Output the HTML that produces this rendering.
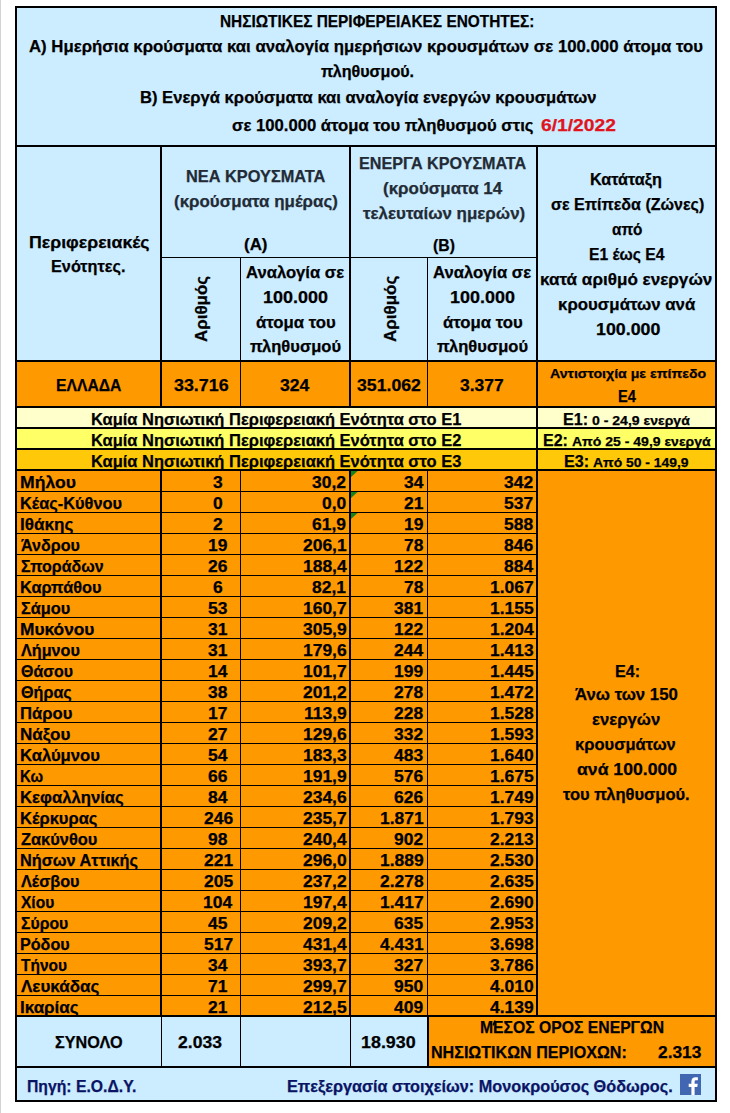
<!DOCTYPE html>
<html><head><meta charset="utf-8"><title>table</title>
<style>
html,body{margin:0;padding:0;background:#fff}
body{width:730px;height:1113px;position:relative;overflow:hidden;font-family:"Liberation Sans",sans-serif;font-weight:bold}
.r{position:absolute}
.t{position:absolute;white-space:pre;line-height:1;transform-origin:0 0;color:#000;-webkit-text-stroke:0.25px currentColor}
</style></head><body>
<div class="r" style="left:0px;top:0px;width:1px;height:1113px;background:#D4D4D4"></div>
<div class="r" style="left:15px;top:6px;width:702px;height:1096px;background:#000"></div>
<div class="r" style="left:17px;top:8px;width:698px;height:137px;background:#CCECFF"></div>
<div class="r" style="left:17px;top:147px;width:698px;height:213px;background:#CCECFF"></div>
<div class="r" style="left:17px;top:362px;width:698px;height:44px;background:#FF9900"></div>
<div class="r" style="left:17px;top:408px;width:698px;height:19px;background:#FFFFCC"></div>
<div class="r" style="left:17px;top:429px;width:698px;height:19px;background:#FFFF66"></div>
<div class="r" style="left:17px;top:450px;width:698px;height:19px;background:#FFC808"></div>
<div class="r" style="left:17px;top:471px;width:698px;height:544px;background:#FF9900"></div>
<div class="r" style="left:17px;top:1017px;width:411px;height:49px;background:#CCECFF"></div>
<div class="r" style="left:429px;top:1017px;width:286px;height:49px;background:#FF9900"></div>
<div class="r" style="left:17px;top:1068px;width:698px;height:32px;background:#CCECFF"></div>
<svg class="r" style="left:351px;top:471px" width="8" height="8"><path d="M0 0H6.6L0 6Z" fill="#15831C"/></svg>
<svg class="r" style="left:351px;top:492px" width="8" height="8"><path d="M0 0H6.6L0 6Z" fill="#15831C"/></svg>
<svg class="r" style="left:351px;top:513px" width="8" height="8"><path d="M0 0H6.6L0 6Z" fill="#15831C"/></svg>
<div class="t" style="left:220.27px;top:13.00px;font-size:16.5px;color:#000;transform:scaleX(0.9332)">ΝΗΣΙΩΤΙΚΕΣ ΠΕΡΙΦΕΡΕΙΑΚΕΣ ΕΝΟΤΗΤΕΣ:</div>
<div class="t" style="left:29.20px;top:38.00px;font-size:16.5px;color:#000;transform:scaleX(1.0157)">Α) Ημερήσια κρούσματα και αναλογία ημερήσιων κρουσμάτων σε 100.000 άτομα του</div>
<div class="t" style="left:320.50px;top:63.00px;font-size:16.5px;color:#000;transform:scaleX(0.9751)">πληθυσμού.</div>
<div class="t" style="left:139.99px;top:89.00px;font-size:16.5px;color:#000;transform:scaleX(1.0059)">Β) Ενεργά κρούσματα και αναλογία ενεργών κρουσμάτων</div>
<div class="t" style="left:232.30px;top:117.00px;font-size:16.5px;color:#000;transform:scaleX(1.0106)">σε 100.000 άτομα του πληθυσμού στις</div>
<div class="t" style="left:541.30px;top:117.00px;font-size:16.5px;color:#E0141C;transform:scaleX(1.1663)">6/1/2022</div>
<div class="t" style="left:28.73px;top:234.00px;font-size:16.5px;color:#000;transform:scaleX(1.0743)">Περιφερειακές</div>
<div class="t" style="left:51.02px;top:258.00px;font-size:16.5px;color:#000;transform:scaleX(0.9849)">Ενότητες.</div>
<div class="t" style="left:185.71px;top:168.00px;font-size:16.5px;color:#222B35;transform:scaleX(0.9909)">ΝΕΑ ΚΡΟΥΣΜΑΤΑ</div>
<div class="t" style="left:174.20px;top:193.00px;font-size:16.5px;color:#222B35;transform:scaleX(1.0252)">(κρούσματα ημέρας)</div>
<div class="t" style="left:244.40px;top:236.00px;font-size:16.5px;color:#000;transform:scaleX(1.0263)">(Α)</div>
<div class="t" style="left:359.12px;top:155.00px;font-size:16.5px;color:#222B35;transform:scaleX(0.9788)">ΕΝΕΡΓΑ ΚΡΟΥΣΜΑΤΑ</div>
<div class="t" style="left:383.40px;top:180.00px;font-size:16.5px;color:#222B35;transform:scaleX(1.0263)">(κρούσματα 14</div>
<div class="t" style="left:362.80px;top:205.00px;font-size:16.5px;color:#222B35;transform:scaleX(1.0269)">τελευταίων ημερών)</div>
<div class="t" style="left:433.20px;top:237.00px;font-size:16.5px;color:#000;transform:scaleX(0.9549)">(Β)</div>
<div class="t" style="left:246.00px;top:264.00px;font-size:16.5px;color:#000;transform:scaleX(1.0087)">Αναλογία σε</div>
<div class="t" style="left:263.01px;top:289.00px;font-size:16.5px;color:#000;transform:scaleX(1.0878)">100.000</div>
<div class="t" style="left:255.80px;top:314.00px;font-size:16.5px;color:#000;transform:scaleX(1.0150)">άτομα του</div>
<div class="t" style="left:249.80px;top:338.00px;font-size:16.5px;color:#000;transform:scaleX(1.0016)">πληθυσμού</div>
<div class="t" style="left:433.00px;top:264.00px;font-size:16.5px;color:#000;transform:scaleX(1.0087)">Αναλογία σε</div>
<div class="t" style="left:450.01px;top:289.00px;font-size:16.5px;color:#000;transform:scaleX(1.0878)">100.000</div>
<div class="t" style="left:442.80px;top:314.00px;font-size:16.5px;color:#000;transform:scaleX(1.0150)">άτομα του</div>
<div class="t" style="left:436.80px;top:338.00px;font-size:16.5px;color:#000;transform:scaleX(1.0016)">πληθυσμού</div>
<div class="t" style="left:206.70px;top:327.83px;font-size:16.5px;color:#000;transform-origin:0 13.97px;transform:rotate(-90deg) scaleX(1.0251)">Αριθμός</div>
<div class="t" style="left:395.50px;top:327.83px;font-size:16.5px;color:#000;transform-origin:0 13.97px;transform:rotate(-90deg) scaleX(1.0282)">Αριθμός</div>
<div class="t" style="left:589.82px;top:171.00px;font-size:16.5px;color:#000;transform:scaleX(0.9830)">Κατάταξη</div>
<div class="t" style="left:550.70px;top:196.00px;font-size:16.5px;color:#000;transform:scaleX(0.9719)">σε Επίπεδα (Ζώνες)</div>
<div class="t" style="left:612.30px;top:221.00px;font-size:16.5px;color:#000;transform:scaleX(0.9275)">από</div>
<div class="t" style="left:589.25px;top:246.00px;font-size:16.5px;color:#000;transform:scaleX(0.9493)">Ε1 έως Ε4</div>
<div class="t" style="left:540.26px;top:271.00px;font-size:16.5px;color:#000;transform:scaleX(1.0357)">κατά αριθμό ενεργών</div>
<div class="t" style="left:558.08px;top:296.00px;font-size:16.5px;color:#000;transform:scaleX(1.0192)">κρουσμάτων ανά</div>
<div class="t" style="left:595.52px;top:321.00px;font-size:16.5px;color:#000;transform:scaleX(1.0792)">100.000</div>
<div class="t" style="left:55.95px;top:377.00px;font-size:16.5px;color:#000;transform:scaleX(0.9529)">ΕΛΛΑΔΑ</div>
<div class="t" style="left:173.60px;top:377.00px;font-size:16.5px;color:#000;transform:scaleX(1.0817)">33.716</div>
<div class="t" style="left:280.40px;top:377.00px;font-size:16.5px;color:#000;transform:scaleX(1.0651)">324</div>
<div class="t" style="left:356.90px;top:377.00px;font-size:16.5px;color:#000;transform:scaleX(1.0712)">351.062</div>
<div class="t" style="left:460.00px;top:377.00px;font-size:16.5px;color:#000;transform:scaleX(1.0556)">3.377</div>
<div class="t" style="left:549.50px;top:367.00px;font-size:13.2px;color:#000;transform:scaleX(1.0730)">Αντιστοιχία με επίπεδο</div>
<div class="t" style="left:618.12px;top:388.00px;font-size:16.5px;color:#000;transform:scaleX(0.8848)">Ε4</div>
<div class="t" style="left:90.90px;top:411.00px;font-size:16.5px;color:#000;transform:scaleX(0.9982)">Καμία Νησιωτική Περιφερειακή Ενότητα στο Ε1</div>
<div class="t" style="left:90.90px;top:432.00px;font-size:16.5px;color:#000;transform:scaleX(0.9982)">Καμία Νησιωτική Περιφερειακή Ενότητα στο Ε2</div>
<div class="t" style="left:90.90px;top:453.00px;font-size:16.5px;color:#000;transform:scaleX(0.9982)">Καμία Νησιωτική Περιφερειακή Ενότητα στο Ε3</div>
<div class="t" style="left:562.69px;top:412.00px;font-size:16px;color:#000;transform:scaleX(1.0057)">Ε1:</div>
<div class="t" style="left:592.00px;top:414.00px;font-size:13px;color:#000;transform:scaleX(1.0802)">0 - 24,9 ενεργά</div>
<div class="t" style="left:542.60px;top:433.00px;font-size:16px;color:#000;transform:scaleX(1.0013)">Ε2:</div>
<div class="t" style="left:571.80px;top:435.00px;font-size:13px;color:#000;transform:scaleX(1.0772)">Από 25 - 49,9 ενεργά</div>
<div class="t" style="left:563.99px;top:454.00px;font-size:16px;color:#000;transform:scaleX(1.0057)">Ε3:</div>
<div class="t" style="left:592.70px;top:456.00px;font-size:13px;color:#000;transform:scaleX(1.0683)">Από 50 - 149,9</div>
<div class="t" style="left:20.00px;top:475.00px;font-size:16px;color:#000;transform:scaleX(1.0993)">Μήλου</div>
<div class="t" style="left:213.19px;top:475.00px;font-size:16px;color:#000;transform:scaleX(1.0900)">3</div>
<div class="t" style="left:312.45px;top:475.00px;font-size:16px;color:#000;transform:scaleX(1.0900)">30,2</div>
<div class="t" style="left:403.89px;top:475.00px;font-size:16px;color:#000;transform:scaleX(1.0900)">34</div>
<div class="t" style="left:504.09px;top:475.00px;font-size:16px;color:#000;transform:scaleX(1.0900)">342</div>
<div class="t" style="left:20.08px;top:496.00px;font-size:16px;color:#000;transform:scaleX(1.0229)">Κέας-Κύθνου</div>
<div class="t" style="left:213.19px;top:496.00px;font-size:16px;color:#000;transform:scaleX(1.0900)">0</div>
<div class="t" style="left:322.14px;top:496.00px;font-size:16px;color:#000;transform:scaleX(1.0900)">0,0</div>
<div class="t" style="left:403.89px;top:496.00px;font-size:16px;color:#000;transform:scaleX(1.0900)">21</div>
<div class="t" style="left:504.09px;top:496.00px;font-size:16px;color:#000;transform:scaleX(1.0900)">537</div>
<div class="t" style="left:20.03px;top:517.00px;font-size:16px;color:#000;transform:scaleX(1.0694)">Ιθάκης</div>
<div class="t" style="left:213.19px;top:517.00px;font-size:16px;color:#000;transform:scaleX(1.0900)">2</div>
<div class="t" style="left:312.45px;top:517.00px;font-size:16px;color:#000;transform:scaleX(1.0900)">61,9</div>
<div class="t" style="left:403.89px;top:517.00px;font-size:16px;color:#000;transform:scaleX(1.0900)">19</div>
<div class="t" style="left:504.09px;top:517.00px;font-size:16px;color:#000;transform:scaleX(1.0900)">588</div>
<div class="t" style="left:21.10px;top:538.00px;font-size:16px;color:#000;transform:scaleX(1.0063)">Άνδρου</div>
<div class="t" style="left:207.80px;top:538.00px;font-size:16px;color:#000;transform:scaleX(1.0900)">19</div>
<div class="t" style="left:302.75px;top:538.00px;font-size:16px;color:#000;transform:scaleX(1.0900)">206,1</div>
<div class="t" style="left:403.89px;top:538.00px;font-size:16px;color:#000;transform:scaleX(1.0900)">78</div>
<div class="t" style="left:504.09px;top:538.00px;font-size:16px;color:#000;transform:scaleX(1.0900)">846</div>
<div class="t" style="left:21.10px;top:559.00px;font-size:16px;color:#000;transform:scaleX(0.9981)">Σποράδων</div>
<div class="t" style="left:208.35px;top:559.00px;font-size:16px;color:#000;transform:scaleX(1.0900)">26</div>
<div class="t" style="left:302.75px;top:559.00px;font-size:16px;color:#000;transform:scaleX(1.0900)">188,4</div>
<div class="t" style="left:394.19px;top:559.00px;font-size:16px;color:#000;transform:scaleX(1.0900)">122</div>
<div class="t" style="left:504.09px;top:559.00px;font-size:16px;color:#000;transform:scaleX(1.0900)">884</div>
<div class="t" style="left:20.08px;top:580.00px;font-size:16px;color:#000;transform:scaleX(1.0211)">Καρπάθου</div>
<div class="t" style="left:213.19px;top:580.00px;font-size:16px;color:#000;transform:scaleX(1.0900)">6</div>
<div class="t" style="left:312.45px;top:580.00px;font-size:16px;color:#000;transform:scaleX(1.0900)">82,1</div>
<div class="t" style="left:403.89px;top:580.00px;font-size:16px;color:#000;transform:scaleX(1.0900)">78</div>
<div class="t" style="left:489.55px;top:580.00px;font-size:16px;color:#000;transform:scaleX(1.0900)">1.067</div>
<div class="t" style="left:21.10px;top:601.00px;font-size:16px;color:#000;transform:scaleX(1.0208)">Σάμου</div>
<div class="t" style="left:208.35px;top:601.00px;font-size:16px;color:#000;transform:scaleX(1.0900)">53</div>
<div class="t" style="left:302.75px;top:601.00px;font-size:16px;color:#000;transform:scaleX(1.0900)">160,7</div>
<div class="t" style="left:394.19px;top:601.00px;font-size:16px;color:#000;transform:scaleX(1.0900)">381</div>
<div class="t" style="left:489.55px;top:601.00px;font-size:16px;color:#000;transform:scaleX(1.0900)">1.155</div>
<div class="t" style="left:20.02px;top:622.00px;font-size:16px;color:#000;transform:scaleX(1.0819)">Μυκόνου</div>
<div class="t" style="left:208.35px;top:622.00px;font-size:16px;color:#000;transform:scaleX(1.0900)">31</div>
<div class="t" style="left:302.75px;top:622.00px;font-size:16px;color:#000;transform:scaleX(1.0900)">305,9</div>
<div class="t" style="left:394.19px;top:622.00px;font-size:16px;color:#000;transform:scaleX(1.0900)">122</div>
<div class="t" style="left:489.55px;top:622.00px;font-size:16px;color:#000;transform:scaleX(1.0900)">1.204</div>
<div class="t" style="left:21.10px;top:643.00px;font-size:16px;color:#000;transform:scaleX(1.0120)">Λήμνου</div>
<div class="t" style="left:208.35px;top:643.00px;font-size:16px;color:#000;transform:scaleX(1.0900)">31</div>
<div class="t" style="left:302.75px;top:643.00px;font-size:16px;color:#000;transform:scaleX(1.0900)">179,6</div>
<div class="t" style="left:394.19px;top:643.00px;font-size:16px;color:#000;transform:scaleX(1.0900)">244</div>
<div class="t" style="left:489.55px;top:643.00px;font-size:16px;color:#000;transform:scaleX(1.0900)">1.413</div>
<div class="t" style="left:21.10px;top:664.00px;font-size:16px;color:#000;transform:scaleX(0.9962)">Θάσου</div>
<div class="t" style="left:207.80px;top:664.00px;font-size:16px;color:#000;transform:scaleX(1.0900)">14</div>
<div class="t" style="left:302.75px;top:664.00px;font-size:16px;color:#000;transform:scaleX(1.0900)">101,7</div>
<div class="t" style="left:394.19px;top:664.00px;font-size:16px;color:#000;transform:scaleX(1.0900)">199</div>
<div class="t" style="left:489.55px;top:664.00px;font-size:16px;color:#000;transform:scaleX(1.0900)">1.445</div>
<div class="t" style="left:21.10px;top:685.00px;font-size:16px;color:#000;transform:scaleX(1.0089)">Θήρας</div>
<div class="t" style="left:208.35px;top:685.00px;font-size:16px;color:#000;transform:scaleX(1.0900)">38</div>
<div class="t" style="left:302.75px;top:685.00px;font-size:16px;color:#000;transform:scaleX(1.0900)">201,2</div>
<div class="t" style="left:394.19px;top:685.00px;font-size:16px;color:#000;transform:scaleX(1.0900)">278</div>
<div class="t" style="left:489.55px;top:685.00px;font-size:16px;color:#000;transform:scaleX(1.0900)">1.472</div>
<div class="t" style="left:20.06px;top:706.00px;font-size:16px;color:#000;transform:scaleX(1.0395)">Πάρου</div>
<div class="t" style="left:207.80px;top:706.00px;font-size:16px;color:#000;transform:scaleX(1.0900)">17</div>
<div class="t" style="left:303.71px;top:706.00px;font-size:16px;color:#000;transform:scaleX(1.0900)">113,9</div>
<div class="t" style="left:394.19px;top:706.00px;font-size:16px;color:#000;transform:scaleX(1.0900)">228</div>
<div class="t" style="left:489.55px;top:706.00px;font-size:16px;color:#000;transform:scaleX(1.0900)">1.528</div>
<div class="t" style="left:20.04px;top:727.00px;font-size:16px;color:#000;transform:scaleX(1.0631)">Νάξου</div>
<div class="t" style="left:208.35px;top:727.00px;font-size:16px;color:#000;transform:scaleX(1.0900)">27</div>
<div class="t" style="left:302.75px;top:727.00px;font-size:16px;color:#000;transform:scaleX(1.0900)">129,6</div>
<div class="t" style="left:394.19px;top:727.00px;font-size:16px;color:#000;transform:scaleX(1.0900)">332</div>
<div class="t" style="left:489.55px;top:727.00px;font-size:16px;color:#000;transform:scaleX(1.0900)">1.593</div>
<div class="t" style="left:20.06px;top:748.00px;font-size:16px;color:#000;transform:scaleX(1.0417)">Καλύμνου</div>
<div class="t" style="left:208.35px;top:748.00px;font-size:16px;color:#000;transform:scaleX(1.0900)">54</div>
<div class="t" style="left:302.75px;top:748.00px;font-size:16px;color:#000;transform:scaleX(1.0900)">183,3</div>
<div class="t" style="left:394.19px;top:748.00px;font-size:16px;color:#000;transform:scaleX(1.0900)">483</div>
<div class="t" style="left:489.55px;top:748.00px;font-size:16px;color:#000;transform:scaleX(1.0900)">1.640</div>
<div class="t" style="left:20.17px;top:769.00px;font-size:16px;color:#000;transform:scaleX(0.9315)">Κω</div>
<div class="t" style="left:208.35px;top:769.00px;font-size:16px;color:#000;transform:scaleX(1.0900)">66</div>
<div class="t" style="left:302.75px;top:769.00px;font-size:16px;color:#000;transform:scaleX(1.0900)">191,9</div>
<div class="t" style="left:394.19px;top:769.00px;font-size:16px;color:#000;transform:scaleX(1.0900)">576</div>
<div class="t" style="left:489.55px;top:769.00px;font-size:16px;color:#000;transform:scaleX(1.0900)">1.675</div>
<div class="t" style="left:20.06px;top:790.00px;font-size:16px;color:#000;transform:scaleX(1.0430)">Κεφαλληνίας</div>
<div class="t" style="left:208.35px;top:790.00px;font-size:16px;color:#000;transform:scaleX(1.0900)">84</div>
<div class="t" style="left:302.75px;top:790.00px;font-size:16px;color:#000;transform:scaleX(1.0900)">234,6</div>
<div class="t" style="left:394.19px;top:790.00px;font-size:16px;color:#000;transform:scaleX(1.0900)">626</div>
<div class="t" style="left:489.55px;top:790.00px;font-size:16px;color:#000;transform:scaleX(1.0900)">1.749</div>
<div class="t" style="left:20.07px;top:811.00px;font-size:16px;color:#000;transform:scaleX(1.0334)">Κέρκυρας</div>
<div class="t" style="left:203.50px;top:811.00px;font-size:16px;color:#000;transform:scaleX(1.0900)">246</div>
<div class="t" style="left:302.75px;top:811.00px;font-size:16px;color:#000;transform:scaleX(1.0900)">235,7</div>
<div class="t" style="left:379.65px;top:811.00px;font-size:16px;color:#000;transform:scaleX(1.0900)">1.871</div>
<div class="t" style="left:489.55px;top:811.00px;font-size:16px;color:#000;transform:scaleX(1.0900)">1.793</div>
<div class="t" style="left:21.10px;top:832.00px;font-size:16px;color:#000;transform:scaleX(1.0261)">Ζακύνθου</div>
<div class="t" style="left:208.35px;top:832.00px;font-size:16px;color:#000;transform:scaleX(1.0900)">98</div>
<div class="t" style="left:302.75px;top:832.00px;font-size:16px;color:#000;transform:scaleX(1.0900)">240,4</div>
<div class="t" style="left:394.19px;top:832.00px;font-size:16px;color:#000;transform:scaleX(1.0900)">902</div>
<div class="t" style="left:489.55px;top:832.00px;font-size:16px;color:#000;transform:scaleX(1.0900)">2.213</div>
<div class="t" style="left:20.08px;top:853.00px;font-size:16px;color:#000;transform:scaleX(1.0182)">Νήσων Αττικής</div>
<div class="t" style="left:203.50px;top:853.00px;font-size:16px;color:#000;transform:scaleX(1.0900)">221</div>
<div class="t" style="left:302.75px;top:853.00px;font-size:16px;color:#000;transform:scaleX(1.0900)">296,0</div>
<div class="t" style="left:379.65px;top:853.00px;font-size:16px;color:#000;transform:scaleX(1.0900)">1.889</div>
<div class="t" style="left:489.55px;top:853.00px;font-size:16px;color:#000;transform:scaleX(1.0900)">2.530</div>
<div class="t" style="left:21.10px;top:874.00px;font-size:16px;color:#000;transform:scaleX(1.0144)">Λέσβου</div>
<div class="t" style="left:203.50px;top:874.00px;font-size:16px;color:#000;transform:scaleX(1.0900)">205</div>
<div class="t" style="left:302.75px;top:874.00px;font-size:16px;color:#000;transform:scaleX(1.0900)">237,2</div>
<div class="t" style="left:379.65px;top:874.00px;font-size:16px;color:#000;transform:scaleX(1.0900)">2.278</div>
<div class="t" style="left:489.55px;top:874.00px;font-size:16px;color:#000;transform:scaleX(1.0900)">2.635</div>
<div class="t" style="left:21.10px;top:895.00px;font-size:16px;color:#000;transform:scaleX(0.9708)">Χίου</div>
<div class="t" style="left:202.95px;top:895.00px;font-size:16px;color:#000;transform:scaleX(1.0900)">104</div>
<div class="t" style="left:302.75px;top:895.00px;font-size:16px;color:#000;transform:scaleX(1.0900)">197,4</div>
<div class="t" style="left:379.65px;top:895.00px;font-size:16px;color:#000;transform:scaleX(1.0900)">1.417</div>
<div class="t" style="left:489.55px;top:895.00px;font-size:16px;color:#000;transform:scaleX(1.0900)">2.690</div>
<div class="t" style="left:21.10px;top:916.00px;font-size:16px;color:#000;transform:scaleX(0.9856)">Σύρου</div>
<div class="t" style="left:208.35px;top:916.00px;font-size:16px;color:#000;transform:scaleX(1.0900)">45</div>
<div class="t" style="left:302.75px;top:916.00px;font-size:16px;color:#000;transform:scaleX(1.0900)">209,2</div>
<div class="t" style="left:394.19px;top:916.00px;font-size:16px;color:#000;transform:scaleX(1.0900)">635</div>
<div class="t" style="left:489.55px;top:916.00px;font-size:16px;color:#000;transform:scaleX(1.0900)">2.953</div>
<div class="t" style="left:20.09px;top:937.00px;font-size:16px;color:#000;transform:scaleX(1.0079)">Ρόδου</div>
<div class="t" style="left:203.50px;top:937.00px;font-size:16px;color:#000;transform:scaleX(1.0900)">517</div>
<div class="t" style="left:302.75px;top:937.00px;font-size:16px;color:#000;transform:scaleX(1.0900)">431,4</div>
<div class="t" style="left:379.65px;top:937.00px;font-size:16px;color:#000;transform:scaleX(1.0900)">4.431</div>
<div class="t" style="left:489.55px;top:937.00px;font-size:16px;color:#000;transform:scaleX(1.0900)">3.698</div>
<div class="t" style="left:21.10px;top:958.00px;font-size:16px;color:#000;transform:scaleX(0.9678)">Τήνου</div>
<div class="t" style="left:208.35px;top:958.00px;font-size:16px;color:#000;transform:scaleX(1.0900)">34</div>
<div class="t" style="left:302.75px;top:958.00px;font-size:16px;color:#000;transform:scaleX(1.0900)">393,7</div>
<div class="t" style="left:394.19px;top:958.00px;font-size:16px;color:#000;transform:scaleX(1.0900)">327</div>
<div class="t" style="left:489.55px;top:958.00px;font-size:16px;color:#000;transform:scaleX(1.0900)">3.786</div>
<div class="t" style="left:21.10px;top:979.00px;font-size:16px;color:#000;transform:scaleX(1.0648)">Λευκάδας</div>
<div class="t" style="left:208.35px;top:979.00px;font-size:16px;color:#000;transform:scaleX(1.0900)">71</div>
<div class="t" style="left:302.75px;top:979.00px;font-size:16px;color:#000;transform:scaleX(1.0900)">299,7</div>
<div class="t" style="left:394.19px;top:979.00px;font-size:16px;color:#000;transform:scaleX(1.0900)">950</div>
<div class="t" style="left:489.55px;top:979.00px;font-size:16px;color:#000;transform:scaleX(1.0900)">4.010</div>
<div class="t" style="left:20.04px;top:1000.00px;font-size:16px;color:#000;transform:scaleX(1.0622)">Ικαρίας</div>
<div class="t" style="left:208.35px;top:1000.00px;font-size:16px;color:#000;transform:scaleX(1.0900)">21</div>
<div class="t" style="left:302.75px;top:1000.00px;font-size:16px;color:#000;transform:scaleX(1.0900)">212,5</div>
<div class="t" style="left:394.19px;top:1000.00px;font-size:16px;color:#000;transform:scaleX(1.0900)">409</div>
<div class="t" style="left:489.55px;top:1000.00px;font-size:16px;color:#000;transform:scaleX(1.0900)">4.139</div>
<div class="t" style="left:615.23px;top:663.00px;font-size:16.5px;color:#000;transform:scaleX(0.9749)">Ε4:</div>
<div class="t" style="left:575.10px;top:686.00px;font-size:16.5px;color:#000;transform:scaleX(1.0163)">Άνω των 150</div>
<div class="t" style="left:592.00px;top:711.00px;font-size:16.5px;color:#000;transform:scaleX(1.0125)">ενεργών</div>
<div class="t" style="left:575.30px;top:736.00px;font-size:16.5px;color:#000;transform:scaleX(1.0014)">κρουσμάτων</div>
<div class="t" style="left:576.80px;top:761.00px;font-size:16.5px;color:#000;transform:scaleX(1.0683)">ανά 100.000</div>
<div class="t" style="left:563.20px;top:786.00px;font-size:16.5px;color:#000;transform:scaleX(1.0005)">του πληθυσμού.</div>
<div class="t" style="left:54.50px;top:1034.00px;font-size:16.5px;color:#000;transform:scaleX(0.9844)">ΣΥΝΟΛΟ</div>
<div class="t" style="left:178.40px;top:1034.00px;font-size:16.5px;color:#000;transform:scaleX(1.0629)">2.033</div>
<div class="t" style="left:361.02px;top:1034.00px;font-size:16.5px;color:#000;transform:scaleX(1.0834)">18.930</div>
<div class="t" style="left:479.55px;top:1019.00px;font-size:16.5px;color:#000;transform:scaleX(0.9529)">ΜΕΣΟΣ ΟΡΟΣ ΕΝΕΡΓΩΝ</div>
<div class="t" style="left:431.42px;top:1044.00px;font-size:16.5px;color:#000;transform:scaleX(0.9750)">ΝΗΣΙΩΤΙΚΩΝ ΠΕΡΙΟΧΩΝ:</div>
<div class="t" style="left:658.10px;top:1044.00px;font-size:16.5px;color:#000;transform:scaleX(1.0507)">2.313</div>
<div class="t" style="left:27.25px;top:1078.00px;font-size:16.5px;color:#0A1464;transform:scaleX(0.9542)">Πηγή: Ε.Ο.Δ.Υ.</div>
<div class="t" style="left:286.82px;top:1078.00px;font-size:16.5px;color:#0A1464;transform:scaleX(0.9845)">Επεξεργασία στοιχείων: Μονοκρούσος Θόδωρος.</div>
<div class="r" style="left:162px;top:257px;width:374px;height:1px;background:#000"></div>
<div class="r" style="left:160px;top:147px;width:2px;height:259px;background:#000"></div>
<div class="r" style="left:349px;top:147px;width:2px;height:259px;background:#000"></div>
<div class="r" style="left:160px;top:471px;width:2px;height:544px;background:#000"></div>
<div class="r" style="left:349px;top:471px;width:2px;height:544px;background:#000"></div>
<div class="r" style="left:240px;top:258px;width:1px;height:148px;background:#000"></div>
<div class="r" style="left:427px;top:258px;width:1px;height:148px;background:#000"></div>
<div class="r" style="left:240px;top:471px;width:1px;height:544px;background:#000"></div>
<div class="r" style="left:427px;top:471px;width:1px;height:544px;background:#000"></div>
<div class="r" style="left:161px;top:1017px;width:1px;height:49px;background:#000"></div>
<div class="r" style="left:240px;top:1017px;width:1px;height:49px;background:#000"></div>
<div class="r" style="left:350px;top:1017px;width:1px;height:49px;background:#000"></div>
<div class="r" style="left:427px;top:1017px;width:2px;height:49px;background:#000"></div>
<div class="r" style="left:536px;top:147px;width:2px;height:868px;background:#000"></div>
<div class="r" style="left:15px;top:6px;width:702px;height:2px;background:#000"></div>
<div class="r" style="left:15px;top:145px;width:702px;height:2px;background:#000"></div>
<div class="r" style="left:15px;top:360px;width:702px;height:2px;background:#000"></div>
<div class="r" style="left:15px;top:406px;width:702px;height:2px;background:#000"></div>
<div class="r" style="left:15px;top:427px;width:702px;height:2px;background:#000"></div>
<div class="r" style="left:15px;top:448px;width:702px;height:2px;background:#000"></div>
<div class="r" style="left:15px;top:469px;width:702px;height:2px;background:#000"></div>
<div class="r" style="left:15px;top:1015px;width:702px;height:2px;background:#000"></div>
<div class="r" style="left:15px;top:1066px;width:702px;height:2px;background:#000"></div>
<div class="r" style="left:15px;top:1100px;width:702px;height:2px;background:#000"></div>
<div class="r" style="left:15px;top:6px;width:2px;height:1096px;background:#000"></div>
<div class="r" style="left:715px;top:6px;width:2px;height:1096px;background:#000"></div>
<div class="r" style="left:17px;top:491px;width:519px;height:1px;background:#000"></div>
<div class="r" style="left:17px;top:512px;width:519px;height:1px;background:#000"></div>
<div class="r" style="left:17px;top:533px;width:519px;height:1px;background:#000"></div>
<div class="r" style="left:17px;top:554px;width:519px;height:1px;background:#000"></div>
<div class="r" style="left:17px;top:575px;width:519px;height:1px;background:#000"></div>
<div class="r" style="left:17px;top:596px;width:519px;height:1px;background:#000"></div>
<div class="r" style="left:17px;top:617px;width:519px;height:1px;background:#000"></div>
<div class="r" style="left:17px;top:638px;width:519px;height:1px;background:#000"></div>
<div class="r" style="left:17px;top:659px;width:519px;height:1px;background:#000"></div>
<div class="r" style="left:17px;top:680px;width:519px;height:1px;background:#000"></div>
<div class="r" style="left:17px;top:701px;width:519px;height:1px;background:#000"></div>
<div class="r" style="left:17px;top:722px;width:519px;height:1px;background:#000"></div>
<div class="r" style="left:17px;top:743px;width:519px;height:1px;background:#000"></div>
<div class="r" style="left:17px;top:764px;width:519px;height:1px;background:#000"></div>
<div class="r" style="left:17px;top:785px;width:519px;height:1px;background:#000"></div>
<div class="r" style="left:17px;top:806px;width:519px;height:1px;background:#000"></div>
<div class="r" style="left:17px;top:827px;width:519px;height:1px;background:#000"></div>
<div class="r" style="left:17px;top:848px;width:519px;height:1px;background:#000"></div>
<div class="r" style="left:17px;top:869px;width:519px;height:1px;background:#000"></div>
<div class="r" style="left:17px;top:890px;width:519px;height:1px;background:#000"></div>
<div class="r" style="left:17px;top:911px;width:519px;height:1px;background:#000"></div>
<div class="r" style="left:17px;top:932px;width:519px;height:1px;background:#000"></div>
<div class="r" style="left:17px;top:953px;width:519px;height:1px;background:#000"></div>
<div class="r" style="left:17px;top:974px;width:519px;height:1px;background:#000"></div>
<div class="r" style="left:17px;top:995px;width:519px;height:1px;background:#000"></div>
<svg class="r" style="left:490px;top:1019px" width="8" height="8"><path d="M4.9 2.2L3.4 5.6" stroke="#000" stroke-width="1.7" stroke-linecap="round"/></svg>
<svg class="r" style="left:680px;top:1074px" width="21" height="21" viewBox="0 0 21 21"><rect width="21" height="21" fill="#4267B2"/><path d="M14.6 21V12.9h2.7l.4-3.2h-3.1V7.7c0-.9.3-1.5 1.6-1.5h1.7V3.3c-.3 0-1.3-.1-2.4-.1-2.4 0-4.1 1.500-4.100 4.200v2.300H8.700v3.200h2.700V21z" fill="#fff"/></svg>
</body></html>
